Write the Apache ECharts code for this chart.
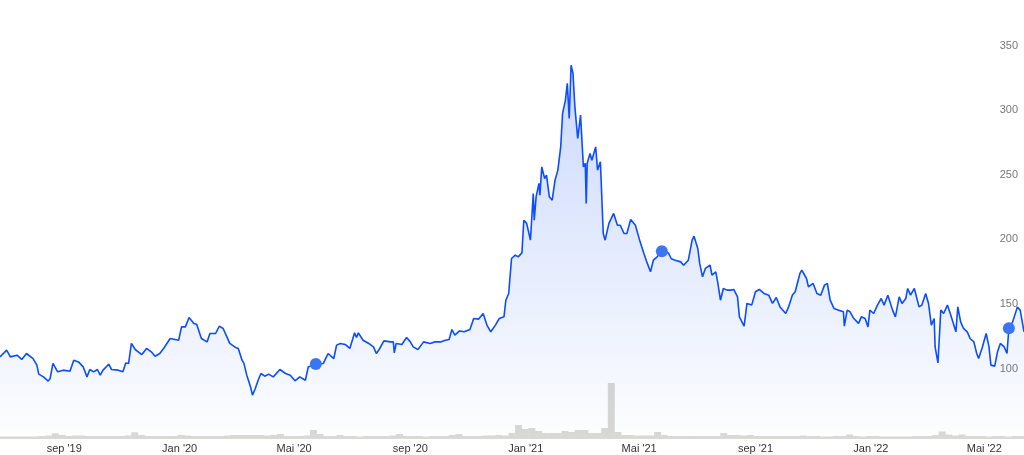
<!DOCTYPE html>
<html><head><meta charset="utf-8">
<script src="https://cdn.jsdelivr.net/npm/echarts@6/dist/echarts.min.js"></script>
<style>html,body{margin:0;padding:0;background:#fff}#c{width:1024px;height:455px}</style>
</head><body><div id="c"></div>
<script>
const priceDates = [
'2019-06-25','2019-07-02','2019-07-06','2019-07-13','2019-07-18','2019-07-23','2019-07-30','2019-08-03','2019-08-05','2019-08-10',
'2019-08-15','2019-08-17','2019-08-20','2019-08-25','2019-08-31','2019-09-07','2019-09-11','2019-09-16','2019-09-21','2019-09-25',
'2019-09-28','2019-10-02','2019-10-06','2019-10-09','2019-10-12','2019-10-18','2019-10-21','2019-10-28','2019-11-02','2019-11-05',
'2019-11-08','2019-11-11','2019-11-15','2019-11-22','2019-11-27','2019-12-02','2019-12-06','2019-12-11','2019-12-15','2019-12-22',
'2019-12-31','2020-01-03','2020-01-07','2020-01-11','2020-01-16','2020-01-19','2020-01-24','2020-01-30','2020-02-02','2020-02-08',
'2020-02-12','2020-02-16','2020-02-20','2020-02-23','2020-02-29','2020-03-03','2020-03-07','2020-03-09','2020-03-12','2020-03-16',
'2020-03-18','2020-03-21','2020-03-24','2020-03-27','2020-03-31','2020-04-04','2020-04-09','2020-04-16','2020-04-22','2020-04-27',
'2020-05-02','2020-05-07','2020-05-13','2020-05-16','2020-05-24','2020-06-01','2020-06-03','2020-06-06','2020-06-12','2020-06-15',
'2020-06-19','2020-06-24','2020-06-29','2020-07-04','2020-07-06','2020-07-08','2020-07-13','2020-07-19','2020-07-24','2020-07-27',
'2020-07-30','2020-08-04','2020-08-11','2020-08-14','2020-08-15','2020-08-17','2020-08-23','2020-08-28','2020-09-01','2020-09-04',
'2020-09-09','2020-09-15','2020-09-22','2020-09-27','2020-10-03','2020-10-08','2020-10-12','2020-10-15','2020-10-18','2020-10-23',
'2020-10-28','2020-10-30','2020-11-03','2020-11-07','2020-11-12','2020-11-17','2020-11-21','2020-11-25','2020-11-30','2020-12-04',
'2020-12-09','2020-12-11','2020-12-14','2020-12-17','2020-12-21','2020-12-24','2020-12-28','2020-12-30','2021-01-02','2021-01-06',
'2021-01-09','2021-01-10','2021-01-12','2021-01-15','2021-01-16','2021-01-18','2021-01-21','2021-01-23','2021-01-26','2021-01-29',
'2021-02-01','2021-02-04','2021-02-07','2021-02-09','2021-02-12','2021-02-14','2021-02-16','2021-02-18','2021-02-20','2021-02-22',
'2021-02-25','2021-02-28','2021-03-03','2021-03-05','2021-03-06','2021-03-07','2021-03-10','2021-03-12','2021-03-16','2021-03-18',
'2021-03-21','2021-03-24','2021-03-26','2021-03-30','2021-04-04','2021-04-08','2021-04-11','2021-04-15','2021-04-18','2021-04-22',
'2021-04-27','2021-05-02','2021-05-06','2021-05-09','2021-05-13','2021-05-16','2021-05-20','2021-05-25','2021-06-01','2021-06-04',
'2021-06-08','2021-06-14','2021-06-17','2021-06-22','2021-06-26','2021-06-28','2021-07-02','2021-07-04','2021-07-07','2021-07-10',
'2021-07-15','2021-07-17','2021-07-21','2021-07-23','2021-07-26','2021-07-29','2021-08-02','2021-08-06','2021-08-09','2021-08-13',
'2021-08-15','2021-08-20','2021-08-23','2021-08-28','2021-09-01','2021-09-05','2021-09-10','2021-09-15','2021-09-19','2021-09-23',
'2021-09-27','2021-10-03','2021-10-06','2021-10-10','2021-10-13','2021-10-18','2021-10-20','2021-10-25','2021-10-27','2021-11-01',
'2021-11-05','2021-11-09','2021-11-13','2021-11-16','2021-11-19','2021-11-23','2021-11-28','2021-12-03','2021-12-04','2021-12-07',
'2021-12-10','2021-12-14','2021-12-19','2021-12-22','2021-12-26','2021-12-29','2021-12-31','2022-01-04','2022-01-08','2022-01-12',
'2022-01-15','2022-01-19','2022-01-24','2022-01-27','2022-01-31','2022-02-03','2022-02-07','2022-02-09','2022-02-12','2022-02-16',
'2022-02-21','2022-02-24','2022-02-28','2022-03-03','2022-03-06','2022-03-09','2022-03-10','2022-03-13','2022-03-16','2022-03-19',
'2022-03-23','2022-03-26','2022-03-28','2022-04-01','2022-04-03','2022-04-06','2022-04-09','2022-04-13','2022-04-16','2022-04-20',
'2022-04-23','2022-04-25','2022-04-29','2022-05-03','2022-05-06','2022-05-08','2022-05-12','2022-05-15','2022-05-18','2022-05-22',
'2022-05-25','2022-05-27','2022-05-31','2022-06-05','2022-06-08','2022-06-12'
];
const prices = [
109.0,114.2,109.0,110.3,107.0,111.6,107.7,102.6,95.6,93.5,
90.2,92.2,103.9,97.4,98.7,97.9,106.4,105.1,101.2,93.5,
99.2,97.4,99.2,94.8,98.7,103.3,99.2,98.7,97.4,104.3,
103.9,119.4,114.7,110.8,115.5,112.9,109.5,111.6,115.5,123.2,
121.9,132.2,132.2,139.5,134.9,134.3,123.2,120.6,127.1,127.1,
132.8,131.0,124.5,119.4,116.3,115.5,106.4,103.9,94.8,85.7,
79.3,84.5,90.9,96.1,94.0,95.6,93.5,99.2,96.1,94.8,
90.4,93.5,90.9,101.2,103.4,103.9,107.0,111.6,107.7,118.1,
119.4,118.6,115.5,127.6,124.0,127.6,121.9,119.4,116.7,111.6,
114.7,121.4,120.6,120.6,112.1,119.4,118.6,124.0,120.6,116.7,
114.7,120.6,119.4,120.6,120.6,121.9,122.5,130.2,125.8,129.1,
128.4,127.1,130.2,138.7,138.2,142.6,133.6,128.4,133.6,138.7,
140.0,152.9,158.1,185.2,187.8,186.5,189.6,214.9,212.4,199.4,
235.6,214.9,233.0,243.4,234.3,256.2,247.2,249.8,233.0,230.4,
245.9,253.7,271.7,297.6,307.9,320.9,293.7,335.0,328.6,302.7,
278.2,296.3,256.2,258.9,227.9,258.9,266.6,261.4,271.7,253.7,
260.1,204.6,199.4,212.4,220.1,211.0,211.0,204.6,204.6,215.5,
211.0,198.1,189.1,182.6,174.9,183.9,186.5,190.9,189.4,185.0,
183.9,182.6,180.0,183.9,199.4,202.5,193.0,181.4,171.0,177.5,
180.0,172.3,174.9,167.1,152.9,162.0,160.7,160.7,161.2,155.5,
140.0,132.8,150.4,149.1,159.4,161.2,158.1,156.8,150.4,155.0,
147.7,142.6,147.7,156.8,159.4,173.6,176.2,169.7,163.2,165.9,
158.1,156.8,164.6,165.9,152.9,146.5,145.2,143.9,132.8,145.2,
143.9,138.7,134.9,140.0,138.7,132.2,145.2,142.6,149.1,154.2,
149.1,156.8,145.2,140.0,155.5,150.4,154.2,162.0,156.8,162.0,
147.7,149.1,158.1,150.4,133.6,138.7,116.7,104.3,145.2,142.6,
149.1,142.6,142.6,128.4,147.7,136.1,131.0,128.4,123.2,120.6,
111.6,107.7,116.7,127.1,116.7,102.6,101.8,112.9,119.4,116.7,
111.6,131.2,136.1,147.7,145.2,128.4
];
const eventDates = ['2020-05-24','2021-05-25','2022-05-27'];
const eventValues = [103.4,190.9,131.2];
const volumeStart = '2019-06-24';
const volumes = [
1.5,1.5,1.5,1.5,1.5,1.5,2,2.5,4.7,3,
2,2.5,2.5,2,2,2,2,2,2,2.5,
5.7,3,2,2,2,2,2,3,2.5,2,
2,2,2,2,2.5,3,3,3,3,3,
2.5,3,4,2,2,2,2.5,8,4,2,
2,3,2,2,1.5,2,2,2,2,2.5,
4,2,2,2,1.5,2,2,2,3,4,
2,2,2,2.5,2.5,3,2.5,5,13,9,
10,7,5,5,5,7,6,8,8,5,
5,10,55,6,3,3,2.5,2.5,2.5,6,
3,2,2,2,2,2,2,2,2,5,
3,3,2.5,3,2,2,2,2,2,2,
2,2.5,2,2,1.5,1.5,2,2,3.5,2,
1.5,2,2,1.5,1.5,1.5,1.5,1.5,2,2,
2,3,6.5,3.5,2.5,3.5,2,2,2,1.5,
2,2,1.5,2,2,2
];
const xTickDates = ['2019-09-01','2020-01-01','2020-05-01','2020-09-01','2021-01-01','2021-05-01','2021-09-01','2022-01-01','2022-05-01'];
const xTickLabels = ["sep '19","Jan '20","Mai '20","sep '20","Jan '21","Mai '21","sep '21","Jan '22","Mai '22"];
const yTicks = [100,150,200,250,300,350];
const xStart = '2019-06-25', xEnd = '2022-06-12';

function ts(s){const p=s.split('-').map(Number);return new Date(p[0],p[1]-1,p[2]).getTime();}
const DAY = 86400000;
const priceData = priceDates.map((d,i)=>[ts(d),prices[i]]);
const eventData = eventDates.map((d,i)=>[ts(d),eventValues[i]]);
const volumeData = volumes.map((v,i)=>[ts(volumeStart)+i*7*DAY+DAY*3.5,v]);
const xTickTs = xTickDates.map(ts);

const chart = echarts.init(document.getElementById('c'), null, {renderer:'canvas'});
chart.setOption({
  animation:false,
  backgroundColor:'#ffffff',
  textStyle:{fontFamily:'"Liberation Sans", Arial, sans-serif'},
  grid:[
    {left:0,right:0,top:20,bottom:22},
    {left:0,right:0,bottom:17,height:60}
  ],
  xAxis:[
    {type:'value',gridIndex:0,min:ts(xStart),max:ts(xEnd),show:false,splitLine:{show:false}},
    {type:'value',gridIndex:1,min:ts(xStart),max:ts(xEnd),
     axisLine:{show:true,lineStyle:{color:'#dadada',width:2}},
     axisTick:{show:false},splitLine:{show:false},
     axisLabel:{customValues:xTickTs,color:'#333',fontSize:11,margin:5,
       formatter:function(v){const i=xTickTs.indexOf(v);return i>=0?xTickLabels[i]:'';}}}
  ],
  yAxis:[
    {type:'value',gridIndex:0,position:'right',min:50,max:370,
     axisLine:{show:false},axisTick:{show:false},splitLine:{show:false},
     axisLabel:{inside:true,customValues:yTicks,margin:6,color:'#777',fontSize:11}},
    {type:'value',gridIndex:1,min:0,max:60,show:false}
  ],
  series:[
    {type:'bar',xAxisIndex:1,yAxisIndex:1,data:volumeData,barWidth:7,
     itemStyle:{color:'#d9d9d3'},z:1,silent:true},
    {type:'line',xAxisIndex:0,yAxisIndex:0,data:priceData,showSymbol:false,
     lineStyle:{color:'#0b4dff',width:1.6},
     areaStyle:{color:new echarts.graphic.LinearGradient(0,0,0,1,[
       {offset:0,color:'rgba(40,95,245,0.34)'},
       {offset:1,color:'rgba(40,95,245,0.02)'}])},
     z:3},
    {type:'scatter',xAxisIndex:0,yAxisIndex:0,data:eventData,symbolSize:12,
     itemStyle:{color:'#3a76f4',opacity:1},z:5}
  ]
});
</script>
</body></html>
